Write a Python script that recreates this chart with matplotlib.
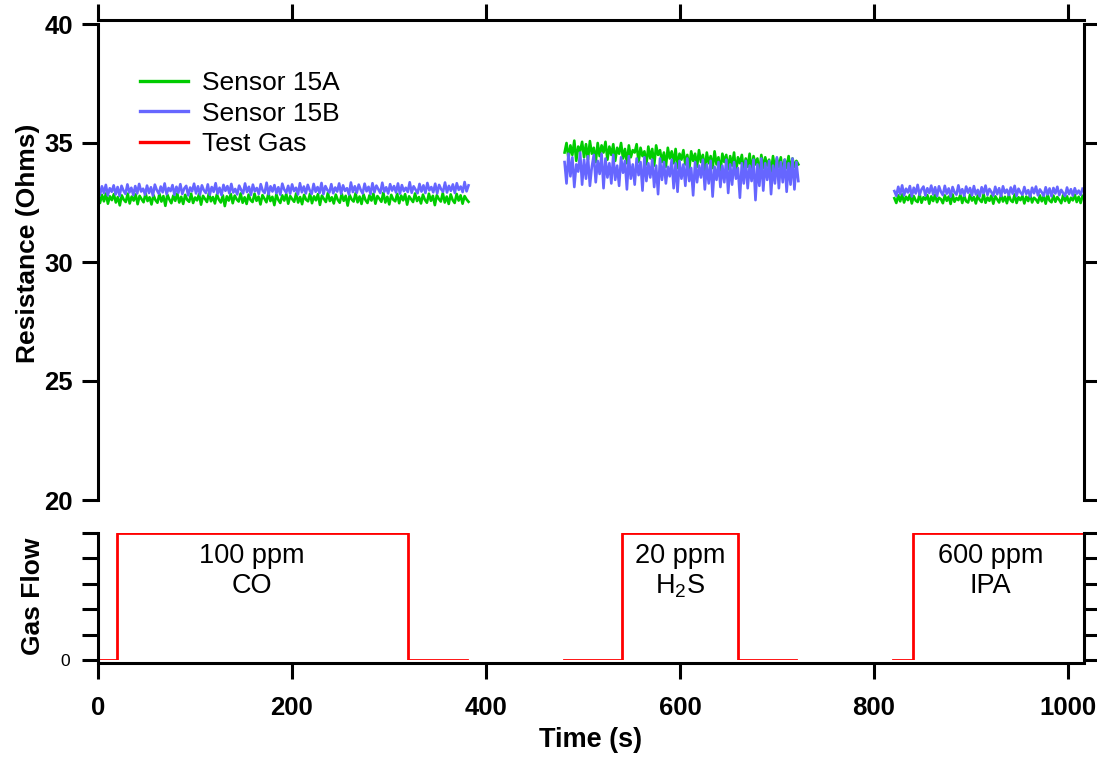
import numpy as np
import matplotlib
matplotlib.use("Agg")
import matplotlib.pyplot as plt

plt.rcParams['font.family'] = ['Liberation Sans', 'DejaVu Sans']
plt.rcParams['mathtext.fontset'] = 'custom'
plt.rcParams['mathtext.rm'] = 'Liberation Sans'
plt.rcParams['mathtext.it'] = 'Liberation Sans:italic'
plt.rcParams['mathtext.bf'] = 'Liberation Sans:bold'
plt.rcParams['mathtext.default'] = 'regular'

# ---------------- data ----------------
# time spans of the three recorded segments (s); samples evenly spaced inside each
seg_spans = [(0, 382), (481, 722), (821, 1015)]

# Sensor 15A (green) resistance, Ohms
s15a_seg1 = [
    32.70, 32.48, 32.82, 32.55, 32.88, 32.45, 32.76, 32.60, 32.85, 32.50, 32.73, 32.38, 32.80, 32.62,
    32.52, 32.87, 32.46, 32.75, 32.58, 32.84, 32.43, 32.78, 32.64, 32.51, 32.89, 32.56, 32.72, 32.42,
    32.81, 32.60, 32.49, 32.86, 32.54, 32.77, 32.36, 32.83, 32.63, 32.47, 32.79, 32.57, 32.88, 32.50,
    32.74, 32.44, 32.82, 32.61, 32.53, 32.87, 32.48, 32.71, 32.59, 32.85, 32.41, 32.78, 32.65, 32.52,
    32.90, 32.55, 32.73, 32.46, 32.84, 32.62, 32.50, 32.80, 32.35, 32.76, 32.58, 32.86, 32.47, 32.79,
    32.63, 32.54, 32.88, 32.49, 32.72, 32.44, 32.83, 32.60, 32.52, 32.87, 32.57, 32.75, 32.42, 32.81,
    32.66, 32.51, 32.89, 32.56, 32.74, 32.39, 32.84, 32.61, 32.48, 32.80, 32.58, 32.86, 32.45, 32.77,
    32.64, 32.53, 32.88, 32.50, 32.73, 32.43, 32.82, 32.62, 32.55, 32.87, 32.47, 32.76, 32.59, 32.85,
    32.40, 32.79, 32.65, 32.52, 32.90, 32.56, 32.72, 32.46, 32.83, 32.61, 32.49, 32.86, 32.57, 32.78,
    32.37, 32.81, 32.63, 32.54, 32.89, 32.51, 32.75, 32.44, 32.84, 32.60, 32.48, 32.80, 32.58, 32.87,
    32.45, 32.77, 32.66, 32.53, 32.91, 32.50, 32.74, 32.42, 32.82, 32.62, 32.55, 32.86, 32.47, 32.79,
    32.59, 32.85, 32.41, 32.76, 32.64, 32.52, 32.88, 32.56, 32.73, 32.46, 32.83, 32.61, 32.49, 32.87,
    32.57, 32.78, 32.39, 32.81, 32.65, 32.54, 32.90, 32.50, 32.75, 32.44, 32.84, 32.60, 32.48, 32.86,
    32.58, 32.80, 32.45, 32.77, 32.63, 32.53]
s15a_seg2 = [
    34.60, 35.00, 34.35, 34.90, 34.50, 35.10, 34.25, 34.85, 34.65, 35.05, 34.40, 34.95, 34.30, 35.08,
    34.55, 34.80, 34.20, 35.00, 34.45, 34.90, 34.60, 35.05, 34.30, 34.85, 34.50, 34.95, 34.25, 34.80,
    34.55, 35.00, 34.35, 34.75, 34.15, 34.90, 34.40, 34.70, 34.60, 34.95, 34.20, 34.80, 34.45, 34.65,
    34.10, 34.85, 34.35, 34.75, 34.05, 34.90, 34.50, 34.70, 34.20, 34.60, 34.00, 34.80, 34.35, 34.65,
    34.15, 34.75, 33.95, 34.55, 34.30, 34.70, 34.10, 34.50, 33.90, 34.65, 34.25, 34.55, 34.00, 34.70,
    34.20, 34.50, 33.85, 34.60, 34.15, 34.45, 33.95, 34.65, 34.10, 34.40, 33.80, 34.55, 34.20, 34.50,
    33.90, 34.45, 34.05, 34.60, 33.75, 34.40, 34.15, 34.50, 33.85, 34.35, 34.00, 34.55, 33.80, 34.45,
    34.10, 34.35, 33.70, 34.50, 33.95, 34.40, 34.05, 34.30, 33.80, 34.45, 33.90, 34.35, 34.00, 34.40,
    33.75, 34.30, 33.95, 34.45, 33.85, 34.35, 34.00, 34.25, 34.10]
s15a_seg3 = [
    32.68, 32.48, 32.80, 32.55, 32.84, 32.50, 32.74, 32.60, 32.82, 32.46, 32.77, 32.58, 32.52, 32.85,
    32.49, 32.72, 32.62, 32.81, 32.45, 32.76, 32.56, 32.83, 32.51, 32.70, 32.64, 32.47, 32.80, 32.57,
    32.75, 32.44, 32.84, 32.53, 32.69, 32.60, 32.82, 32.48, 32.78, 32.55, 32.50, 32.83, 32.58, 32.73,
    32.46, 32.80, 32.61, 32.52, 32.85, 32.49, 32.71, 32.57, 32.79, 32.45, 32.76, 32.63, 32.50, 32.82,
    32.54, 32.74, 32.47, 32.81, 32.59, 32.52, 32.84, 32.48, 32.72, 32.60, 32.78, 32.46, 32.75, 32.56,
    32.83, 32.50, 32.70, 32.62, 32.49, 32.80, 32.55, 32.77, 32.45, 32.82, 32.58, 32.51, 32.79, 32.53,
    32.73, 32.61, 32.47, 32.81, 32.56, 32.76, 32.49, 32.70, 32.59, 32.83, 32.52, 32.74, 32.48, 32.78]

# Sensor 15B (blue) resistance, Ohms
s15b_seg1 = [
    33.05, 32.82, 33.18, 32.90, 33.24, 32.80, 33.10, 32.95, 33.22, 32.84, 33.15, 32.78, 33.20, 33.00,
    32.86, 33.26, 32.92, 33.12, 32.81, 33.19, 32.88, 33.28, 32.96, 33.08, 32.83, 33.21, 32.90, 33.14,
    32.79, 33.25, 33.02, 32.87, 33.17, 32.93, 33.30, 32.85, 33.11, 32.98, 33.23, 32.82, 33.16, 32.91,
    33.27, 32.86, 33.09, 33.20, 32.80, 33.13, 32.97, 33.29, 32.88, 33.18, 32.84, 33.22, 33.01, 32.90,
    33.26, 32.83, 33.15, 32.95, 33.31, 32.87, 33.12, 32.81, 33.24, 32.99, 33.19, 32.89, 33.28, 32.92,
    33.07, 32.84, 33.21, 33.03, 32.88, 33.30, 32.94, 33.16, 32.82, 33.25, 32.97, 33.11, 32.86, 33.27,
    33.00, 32.90, 33.33, 32.85, 33.18, 32.96, 33.23, 32.89, 33.14, 32.83, 33.29, 33.04, 32.91, 33.20,
    32.87, 33.26, 32.98, 33.12, 32.84, 33.31, 32.93, 33.17, 32.88, 33.24, 33.01, 32.86, 33.28, 32.95,
    33.15, 32.90, 33.32, 32.85, 33.19, 33.02, 32.92, 33.27, 32.89, 33.13, 32.96, 33.30, 32.87, 33.22,
    32.99, 33.10, 32.84, 33.34, 32.94, 33.18, 32.91, 33.25, 33.03, 32.88, 33.29, 32.97, 33.16, 32.86,
    33.31, 32.93, 33.21, 33.05, 32.90, 33.33, 32.95, 33.14, 32.88, 33.27, 33.00, 33.19, 32.92, 33.30,
    32.87, 33.23, 32.98, 33.12, 32.94, 33.35, 32.91, 33.18, 33.04, 32.89, 33.28, 32.96, 33.22, 32.90,
    33.32, 33.01, 33.15, 32.93, 33.29, 32.88, 33.24, 33.06, 32.95, 33.34, 32.92, 33.20, 32.99, 33.26,
    32.90, 33.31, 33.03, 33.17, 32.94, 33.36, 32.97, 33.22]
s15b_seg2 = [
    34.20, 33.30, 34.55, 33.60, 34.40, 33.15, 34.10, 33.80, 34.60, 33.25, 34.30, 33.50, 34.45, 33.20,
    34.00, 34.50, 33.35, 34.25, 33.70, 34.55, 33.10, 34.35, 33.55, 34.15, 33.30, 34.50, 33.45, 34.05,
    33.20, 34.40, 33.75, 34.25, 33.05, 34.45, 33.50, 34.10, 33.25, 34.35, 33.65, 34.20, 33.00, 34.40,
    33.40, 34.15, 33.55, 34.30, 33.15, 34.05, 32.85, 34.35, 33.45, 34.20, 33.30, 34.00, 33.60, 34.30,
    33.10, 34.15, 32.95, 34.25, 33.50, 34.10, 33.20, 34.35, 33.40, 33.95, 32.80, 34.20, 33.35, 34.05,
    33.55, 34.30, 33.05, 34.10, 33.30, 34.25, 32.75, 34.00, 33.45, 34.20, 33.15, 34.05, 33.35, 34.30,
    32.90, 34.10, 33.25, 34.20, 33.50, 33.95, 32.70, 34.15, 33.30, 34.25, 33.10, 34.05, 33.40, 34.30,
    32.60, 34.10, 33.20, 34.35, 33.00, 34.15, 33.45, 34.25, 32.85, 34.05, 33.30, 34.40, 33.10, 34.20,
    33.35, 34.30, 32.95, 34.15, 33.25, 34.35, 33.05, 34.20, 33.40]
s15b_seg3 = [
    32.98, 32.78, 33.16, 32.85, 33.22, 32.80, 33.08, 32.92, 33.19, 32.76, 33.12, 32.88, 33.24, 32.82,
    33.05, 33.17, 32.79, 33.10, 32.90, 33.21, 32.84, 33.14, 32.77, 33.18, 32.95, 32.81, 33.20, 32.87,
    33.09, 32.75, 33.15, 32.93, 32.83, 33.22, 32.86, 33.06, 32.78, 33.17, 32.91, 33.11, 32.80, 33.19,
    32.84, 33.03, 32.76, 33.14, 32.89, 33.21, 32.82, 33.07, 32.94, 32.79, 33.16, 32.85, 33.10, 32.77,
    33.18, 32.90, 33.04, 32.81, 33.13, 32.87, 33.20, 32.78, 33.08, 32.92, 32.83, 33.15, 32.86, 33.02,
    32.75, 33.12, 32.89, 33.17, 32.80, 33.05, 32.93, 32.78, 33.14, 32.84, 33.09, 32.76, 33.11, 32.88,
    33.16, 32.81, 33.03, 32.90, 32.77, 33.13, 32.85, 33.06, 32.79, 33.10, 32.87, 33.00, 32.82, 33.08]

# Test gas flow (step signal): change times and levels
gas_t = [[0, 20, 320, 380], [480, 540, 660, 720], [820, 840, 1016]]
gas_v = [[0, 5, 0, 0], [0, 5, 0, 0], [0, 5, 5]]

gas_labels = [("100 ppm", "CO"), ("20 ppm", r"H$_2$S"), ("600 ppm", "IPA")]
gas_label_x = [159, 600, 920]

series_names = ["Sensor 15A", "Sensor 15B", "Test Gas"]
colors = ["#00CC00", "#6666FF", "#FF0000"]

x_ticks = [0, 200, 400, 600, 800, 1000]
r_ticks = [20, 25, 30, 35, 40]
g_ticks = [0, 1, 2, 3, 4, 5]
g_ticklabels = ["0", "", "", "", "", ""]

# ---------------- figure ----------------
W, H = 1097, 759
fig = plt.figure(figsize=(W / 100, H / 100), dpi=100)

def fx(px):
    return px / W

def fy(py):
    return 1 - py / H

L, R = 98, 1084
ax = fig.add_axes([fx(L), fy(500), fx(R) - fx(L), fy(24) - fy(500)])
axg = fig.add_axes([fx(L), fy(660), fx(R) - fx(L), fy(533) - fy(660)], sharex=ax)

lw_sp = 2.2
tick_len = 11.5
lw_data = 1.9

# resistance traces
segA = [s15a_seg1, s15a_seg2, s15a_seg3]
segB = [s15b_seg1, s15b_seg2, s15b_seg3]
for i, (t0, t1) in enumerate(seg_spans):
    ta = np.linspace(t0, t1, len(segA[i]))
    tb = np.linspace(t0, t1, len(segB[i]))
    ax.plot(ta, segA[i], color=colors[0], lw=lw_data,
            label=series_names[0] if i == 0 else None)
    ax.plot(tb, segB[i], color=colors[1], lw=lw_data,
            label=series_names[1] if i == 0 else None)
ax.plot([], [], color=colors[2], lw=2, label=series_names[2])

ax.set_xlim(0, 1016.5)
ax.set_ylim(20, 40)
ax.set_yticks(r_ticks)
ax.set_xticks(x_ticks)
ax.spines['bottom'].set_visible(False)
for s in ['left', 'right', 'top']:
    ax.spines[s].set_linewidth(lw_sp)
ax.spines['top'].set_position(('outward', 2.9))
ax.xaxis.set_ticks_position('top')
ax.tick_params(axis='x', which='both', top=True, bottom=False, labeltop=False, labelbottom=False,
               direction='out', length=tick_len, width=lw_sp)
ax.tick_params(axis='y', left=True, right=True, labelleft=True, labelright=False,
               direction='out', length=tick_len, width=lw_sp, pad=6.5, labelsize=18.5)
for lab in ax.get_yticklabels():
    lab.set_fontweight('bold')
ax.set_ylabel("Resistance (Ohms)", fontsize=19, fontweight='bold', va='center', ha='center')
ax.yaxis.set_label_coords(fx(28 - L) / (fx(R) - fx(L)), 0.54)

leg = ax.legend(loc='upper left', bbox_to_anchor=(0.043, 0.901), frameon=False, fontsize=19,
                handlelength=1.8, handletextpad=0.55, labelspacing=0.25, borderaxespad=0,
                borderpad=0)
for line in leg.get_lines():
    line.set_linewidth(2.4)

# gas flow panel
for i in range(len(gas_t)):
    axg.plot(gas_t[i], gas_v[i], color=colors[2], lw=2, drawstyle='steps-post')
axg.set_ylim(0, 5)
axg.set_yticks(g_ticks)
axg.set_yticklabels(g_ticklabels)
axg.spines['top'].set_visible(False)
for s in ['left', 'right', 'bottom']:
    axg.spines[s].set_linewidth(lw_sp)
axg.spines['bottom'].set_position(('outward', 2.2))
axg.tick_params(axis='x', bottom=True, top=False, labelbottom=True, direction='out',
                length=tick_len, width=lw_sp, pad=12.5, labelsize=18.5)
for lab in axg.get_xticklabels():
    lab.set_fontweight('bold')
axg.tick_params(axis='y', left=True, right=True, labelleft=True, labelright=False,
                direction='out', length=tick_len, width=lw_sp, pad=9, labelsize=12.5)
axg.set_ylabel("Gas Flow", fontsize=19, fontweight='bold', va='center', ha='center')
axg.yaxis.set_label_coords(fx(33 - L) / (fx(R) - fx(L)), 0.5)
axg.set_xlabel("Time (s)", fontsize=19.5, fontweight='bold', va='center', ha='center')
axg.xaxis.set_label_coords(0.5, (660 - 740) / (660 - 533))

for (l1, l2), xc in zip(gas_labels, gas_label_x):
    axg.text(xc, 4.09, l1, ha='center', va='center', fontsize=19.5)
    axg.text(xc, 2.91, l2, ha='center', va='center', fontsize=19.5)

fig.savefig("out.png", dpi=100)
